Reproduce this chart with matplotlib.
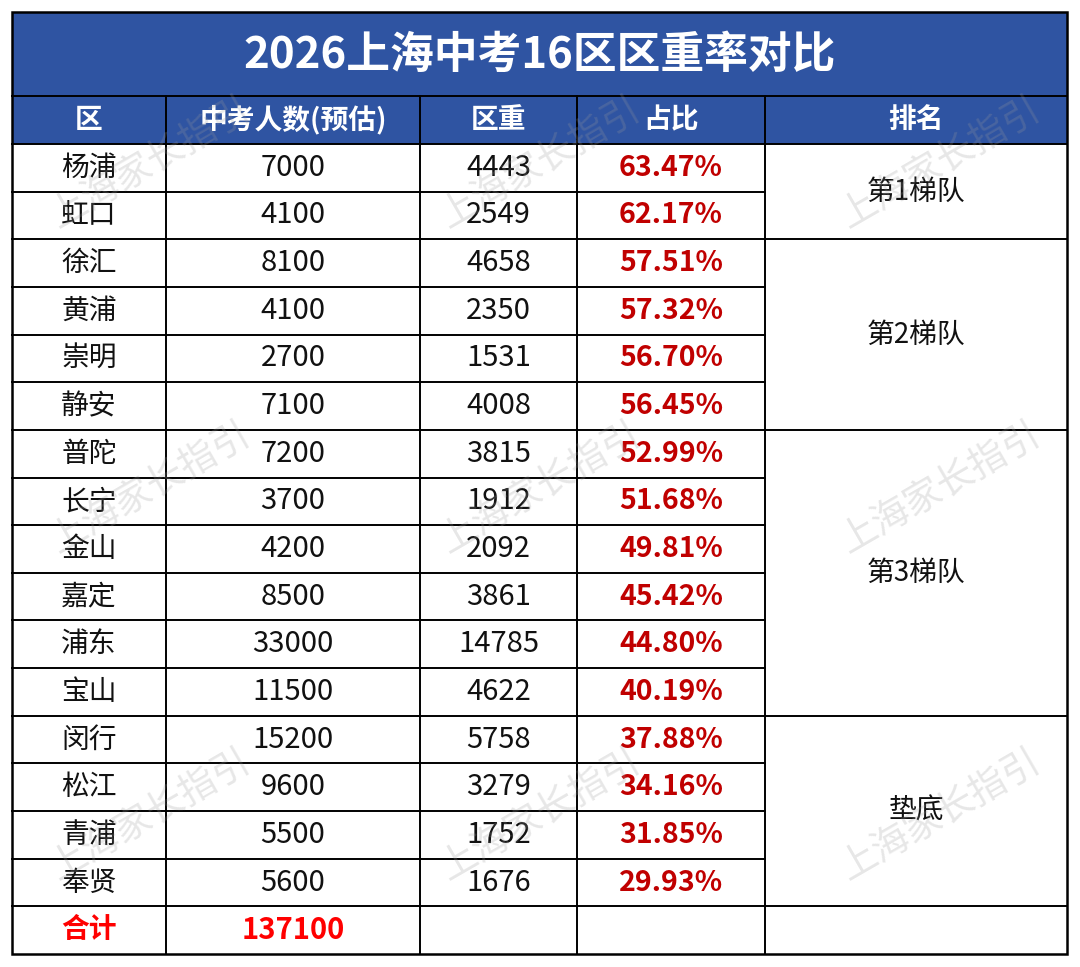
import matplotlib
matplotlib.use("Agg")
import matplotlib.pyplot as plt
from matplotlib.patches import Rectangle

plt.rcParams["font.family"] = ["Noto Sans CJK SC", "DejaVu Sans"]

title = "2026上海中考16区区重率对比"
headers = ["区", "中考人数(预估)", "区重", "占比", "排名"]
districts = ["杨浦", "虹口", "徐汇", "黄浦", "崇明", "静安", "普陀", "长宁",
             "金山", "嘉定", "浦东", "宝山", "闵行", "松江", "青浦", "奉贤"]
students = [7000, 4100, 8100, 4100, 2700, 7100, 7200, 3700,
            4200, 8500, 33000, 11500, 15200, 9600, 5500, 5600]
quota = [4443, 2549, 4658, 2350, 1531, 4008, 3815, 1912,
         2092, 3861, 14785, 4622, 5758, 3279, 1752, 1676]
ratio = [63.47, 62.17, 57.51, 57.32, 56.70, 56.45, 52.99, 51.68,
         49.81, 45.42, 44.80, 40.19, 37.88, 34.16, 31.85, 29.93]
# tiers: (label, first row, number of rows)
tiers = [("第1梯队", 0, 2), ("第2梯队", 2, 4), ("第3梯队", 6, 6), ("垫底", 12, 4)]
total_label = "合计"
total_students = 137100
watermark = "上海家长指引"

BLUE = "#2f54a2"
DARKRED = "#c00000"
RED = "#ff0000"

W, H = 1080, 967
fig = plt.figure(figsize=(W / 100, H / 100), dpi=100)
ax = fig.add_axes([0, 0, 1, 1])
ax.set_xlim(0, W)
ax.set_ylim(H, 0)
ax.axis("off")

cols = [12, 166, 420, 577, 765, 1067]
top, title_bot, head_bot, bottom = 12, 96, 144, 954
n_rows = len(districts) + 1
rh = (bottom - head_bot) / n_rows
left, right = cols[0], cols[-1]

def cx(i):
    return (cols[i] + cols[i + 1]) / 2

def ry(r):
    return head_bot + r * rh

# backgrounds
ax.add_patch(Rectangle((left, top), right - left, head_bot - top, facecolor=BLUE, edgecolor="none", zorder=0))
ax.add_patch(Rectangle((left, head_bot), right - left, bottom - head_bot, facecolor="white", edgecolor="none", zorder=0))

# title and headers
ax.text((left + right) / 2, (top + title_bot) / 2 + 1, title, color="white", fontsize=31.5,
        fontweight="bold", ha="center", va="center", zorder=3)
for i, h in enumerate(headers):
    ax.text(cx(i), (title_bot + head_bot) / 2, h, color="white", fontsize=20,
            fontweight="bold", ha="center", va="center", zorder=3)

# body rows
for r in range(len(districts)):
    yc = ry(r) + rh / 2
    ax.text(cx(0), yc, districts[r], fontsize=20, ha="center", va="center", color="#111111", zorder=3)
    ax.text(cx(1), yc, str(students[r]), fontsize=21, ha="center", va="center", color="#111111", zorder=3)
    ax.text(cx(2), yc, str(quota[r]), fontsize=21, ha="center", va="center", color="#111111", zorder=3)
    ax.text(cx(3), yc, f"{ratio[r]:.2f}%", fontsize=20.5, fontweight="bold", ha="center",
            va="center", color=DARKRED, zorder=3)

yc = ry(len(districts)) + rh / 2
ax.text(cx(0), yc, total_label, fontsize=20, fontweight="bold", ha="center", va="center", color=RED, zorder=3)
ax.text(cx(1), yc, str(total_students), fontsize=21, fontweight="bold", ha="center", va="center", color=RED, zorder=3)

for label, start, n in tiers:
    ax.text(cx(4), ry(start) + n * rh / 2, label, fontsize=20, ha="center", va="center", color="#111111", zorder=3)

# grid lines
lw = 1.4
ax.plot([left, right], [title_bot, title_bot], color="black", lw=lw, zorder=4)
ax.plot([left, right], [head_bot, head_bot], color="black", lw=lw, zorder=4)
tier_inner = set()
for label, start, n in tiers:
    for k in range(1, n):
        tier_inner.add(start + k)
for r in range(1, n_rows):
    y = ry(r)
    x_end = cols[4] if r in tier_inner else right
    ax.plot([left, x_end], [y, y], color="black", lw=lw, zorder=4)
for c in cols[1:-1]:
    ax.plot([c, c], [title_bot, bottom], color="black", lw=lw, zorder=4)
ax.add_patch(Rectangle((left, top), right - left, bottom - top, facecolor="none",
                       edgecolor="black", lw=1.8, zorder=5))

# watermark
for wx in [150, 540, 940]:
    for wy in [163, 488, 815]:
        ax.text(wx, wy, watermark, fontsize=27, rotation=30, ha="center", va="center",
                color="#9a9a9a", alpha=0.24, fontweight="light", zorder=6)

fig.savefig("out.png", dpi=100, facecolor="white")
plt.close(fig)
